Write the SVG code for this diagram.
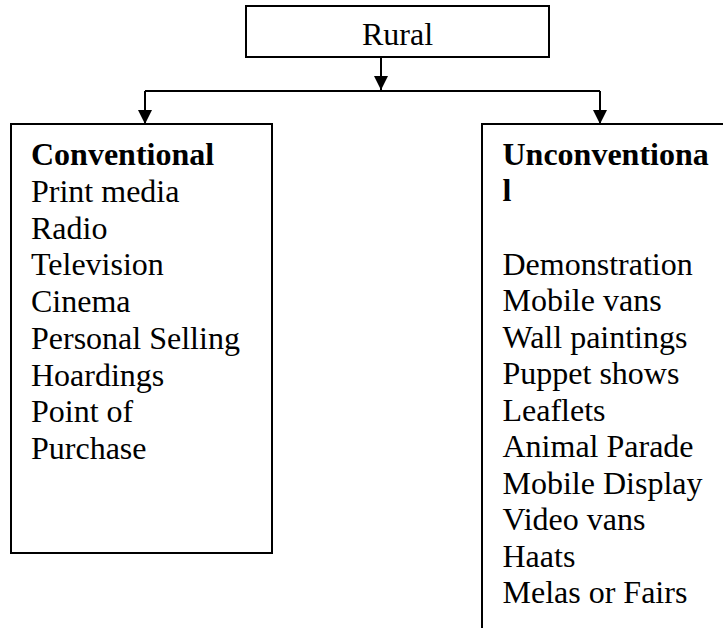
<svg xmlns="http://www.w3.org/2000/svg" width="723" height="628" viewBox="0 0 723 628">
<style>
.box{fill:#fff;stroke:#000;stroke-width:2}
.ln{fill:none;stroke:#000;stroke-width:2}
text{font-family:"Liberation Serif","Times New Roman",serif;font-size:32px;fill:#000}
.b{font-weight:bold}
</style>
<defs>
<marker id="ah" markerWidth="14" markerHeight="14" refX="14" refY="7" orient="auto" markerUnits="userSpaceOnUse">
<path d="M0,0 L14,7 L0,14 Z" fill="#000"/>
</marker>
</defs>
<rect width="723" height="628" fill="#fff"/>
<g id="connectors">
<line class="ln" x1="381" y1="57" x2="381" y2="90" marker-end="url(#ah)"/>
<line class="ln" x1="145" y1="91" x2="600" y2="91"/>
<line class="ln" x1="145" y1="91" x2="145" y2="124" marker-end="url(#ah)"/>
<line class="ln" x1="600" y1="91" x2="600" y2="124" marker-end="url(#ah)"/>
</g>
<g id="rural">
<rect class="box" x="246" y="6" width="303" height="51"/>
<text x="397.5" y="45" text-anchor="middle">Rural</text>
</g>
<g id="conventional">
<rect class="box" x="11" y="124" width="261" height="429"/>
<text x="31" y="165" class="b">Conventional</text>
<text x="31" y="201.75">Print media</text>
<text x="31" y="238.5">Radio</text>
<text x="31" y="275.25">Television</text>
<text x="31" y="312">Cinema</text>
<text x="31" y="348.75">Personal Selling</text>
<text x="31" y="385.5">Hoardings</text>
<text x="31" y="422.25">Point of</text>
<text x="31" y="459">Purchase</text>
</g>
<g id="unconventional">
<path class="box" d="M730,124 H482 V640 H730 Z"/>
<text x="502.5" y="164.5" class="b">Unconventiona</text>
<text x="502.5" y="201" class="b">l</text>
<text x="502.5" y="274.5">Demonstration</text>
<text x="502.5" y="311">Mobile vans</text>
<text x="502.5" y="347.5">Wall paintings</text>
<text x="502.5" y="384">Puppet shows</text>
<text x="502.5" y="420.5">Leaflets</text>
<text x="502.5" y="457">Animal Parade</text>
<text x="502.5" y="493.5">Mobile Display</text>
<text x="502.5" y="530">Video vans</text>
<text x="502.5" y="566.5">Haats</text>
<text x="502.5" y="603">Melas or Fairs</text>
</g>
</svg>
